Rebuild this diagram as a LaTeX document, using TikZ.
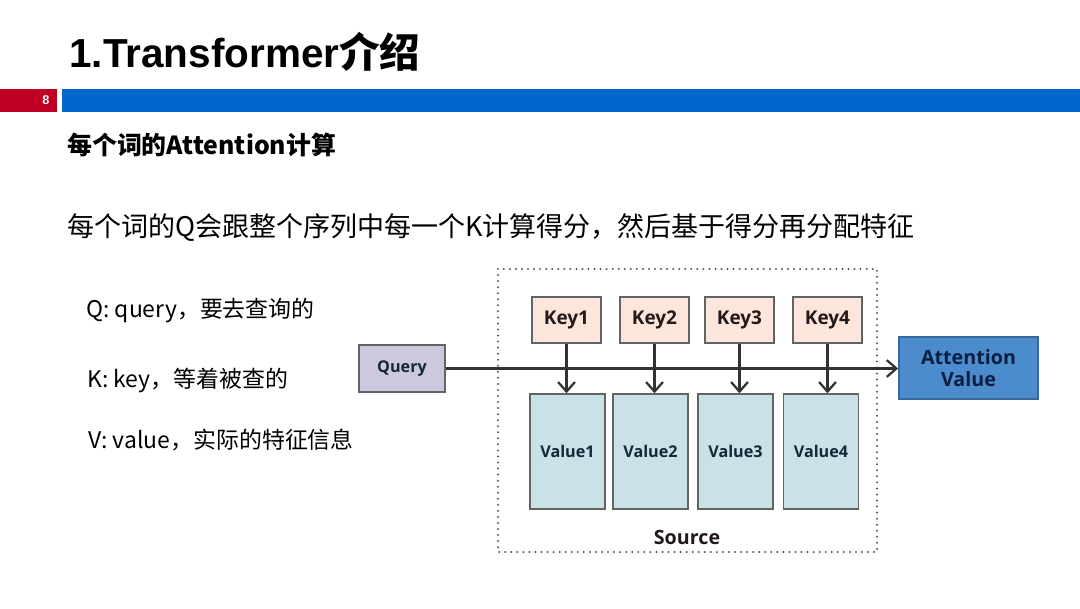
\documentclass[tikz,border=0pt]{standalone}
\usepackage{fontspec}
\usepackage{xcolor}
\usetikzlibrary{positioning,arrows.meta}
\setmainfont{Noto Sans CJK SC}
\newfontfamily\latfont{Liberation Sans}
\newfontfamily\boxfont{Open Sans}
\definecolor{slidered}{RGB}{192,0,35}
\definecolor{slideblue}{RGB}{0,102,204}
\definecolor{keyfill}{RGB}{252,230,220}
\definecolor{valfill}{RGB}{200,226,232}
\definecolor{qfill}{RGB}{205,200,222}
\definecolor{attfill}{RGB}{76,140,205}
\definecolor{boxline}{RGB}{100,100,100}
\definecolor{attline}{RGB}{55,105,160}
\definecolor{keytext}{RGB}{35,25,25}
\definecolor{valtext}{RGB}{20,40,55}
\definecolor{atttext}{RGB}{10,30,65}
\tikzset{
  keybox/.style={draw=boxline, line width=1.1pt, fill=keyfill, minimum width=1.72cm, minimum height=1.15cm,
                 inner sep=0pt, text=keytext, font=\boxfont\bfseries\fontsize{13.5}{15}\selectfont},
  valbox/.style={keybox, fill=valfill, minimum width=1.87cm, minimum height=2.87cm, text=valtext,
                 font=\boxfont\bfseries\fontsize{11.5}{14}\selectfont},
  qbox/.style={keybox, fill=qfill, minimum width=2.15cm, minimum height=1.17cm, text=valtext,
               font=\boxfont\bfseries\fontsize{11.5}{14}\selectfont},
  attbox/.style={keybox, draw=attline, fill=attfill, minimum width=3.48cm, minimum height=1.55cm,
                 text=atttext, align=center, font=\boxfont\bfseries\fontsize{14}{15.5}\selectfont},
  flow/.style={-{Straight Barb[length=2.4mm,width=4.2mm]}, line width=1.6pt, draw=black!80},
  srcframe/.style={draw=black!65, line width=1.6pt, line cap=round, dash pattern=on 0pt off 4.3pt},
  srclbl/.style={inner sep=0pt, text=keytext, font=\boxfont\bfseries\fontsize{14}{16}\selectfont},
  line/.style={anchor=west, inner sep=0pt, font=\fontsize{16.3}{19}\selectfont}
}

\begin{document}
\begin{tikzpicture}[x=0.025cm, y=-0.025cm]
    \useasboundingbox (0,0) rectangle (1080,608);
    % header bar
    \fill[slidered] (0,89) rectangle (57,112);
    \fill[slideblue] (62,89) rectangle (1080,112);
    \node[text=white, inner sep=0pt, font=\latfont\bfseries\fontsize{9}{10}\selectfont] (pg) at (46,100.5) {8};
    \node[anchor=base west, inner sep=0pt, font=\bfseries\fontsize{28.8}{32}\selectfont] (title) at (69,67)
      {{\latfont 1.Transformer}介绍};
    \node[anchor=west, inner sep=0pt, font=\bfseries\fontsize{17.7}{21}\selectfont] (sub) at (67,145)
      {每个词的Attention计算};
    \node[anchor=west, inner sep=0pt, font=\fontsize{19.2}{22}\selectfont] (desc) at (67,228)
      {每个词的Q会跟整个序列中每一个K计算得分，然后基于得分再分配特征};
    % legend on the left
    \node[line] (lq) at (86,310) {Q: query，要去查询的};
    \node[line] (lk) at (87,380) {K: key，等着被查的};
    \node[line] (lv) at (88,440) {V: value，实际的特征信息};
    % attention diagram
    \draw[srcframe] (498,269) rectangle (877,552);
    \node[qbox] (q) at (402,368.5) {Query};
    \node[attbox] (av) at (968.5,368) {Attention\\Value};
    \foreach \i/\kx/\vx in {1/566.5/567.5,2/654.5/650.5,3/739.5/735.5,4/827.5/821} {
      \node[keybox] (k\i) at (\kx,320) {Key\i};
      \node[valbox] (v\i) at (\vx,451.5) {Value\i};
    }
    \draw[flow] (q.east) -- (q.east -| av.west);
    \foreach \i in {1,...,4} \draw[flow] (k\i.south) -- (k\i.south |- v\i.north);
    \node[srclbl] (src) at (687,537) {Source};
  \end{tikzpicture}
\end{document}
